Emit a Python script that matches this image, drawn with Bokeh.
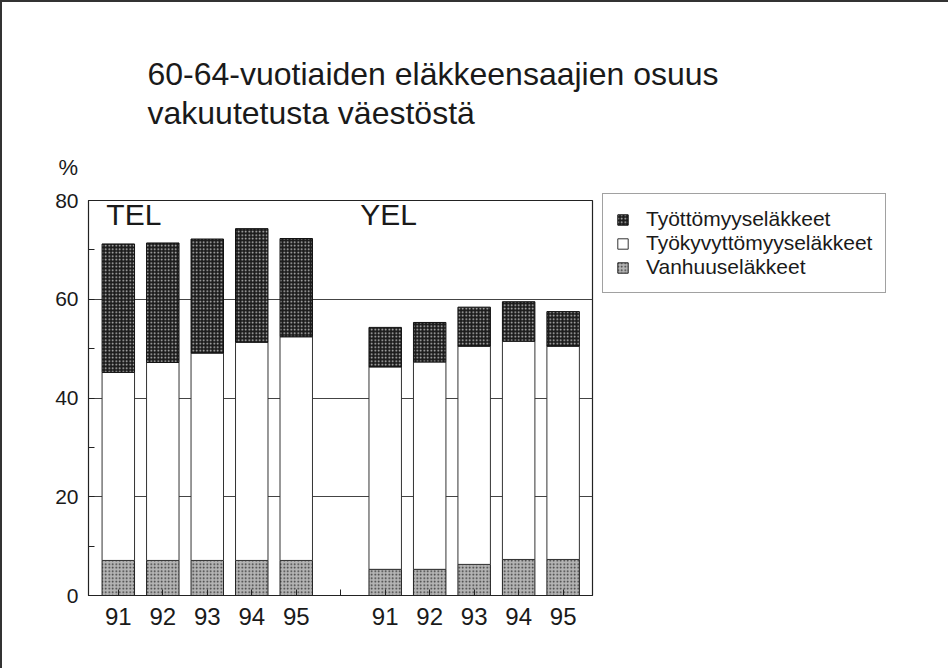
import numpy as np
from bokeh.plotting import figure
from bokeh.models import ColumnDataSource, FixedTicker, Label, Legend, LegendItem, Range1d, Title
from bokeh.embed import file_html
from bokeh.resources import INLINE

# ---- data -------------------------------------------------------------
years = ["91", "92", "93", "94", "95"]
groups = ["TEL", "YEL"]
series_names = ["Vanhuuseläkkeet", "Työkyvyttömyyseläkkeet", "Työttömyyseläkkeet"]
tel_vanhuus = [7.1, 7.1, 7.1, 7.1, 7.1]
tel_tyokyvyttomyys = [38.1, 40.1, 42.0, 44.2, 45.3]
tel_tyottomyys = [26.0, 24.2, 23.1, 23.0, 19.9]
yel_vanhuus = [5.3, 5.3, 6.3, 7.3, 7.3]
yel_tyokyvyttomyys = [41.0, 42.0, 44.2, 44.2, 43.2]
yel_tyottomyys = [8.0, 8.0, 7.9, 8.0, 7.0]
y_ticks = [0, 20, 40, 60, 80]
y_minor = [10, 30, 50, 70]
title_text = "60-64-vuotiaiden eläkkeensaajien osuus\nvakuutetusta väestöstä"
unit_text = "%"

FONT = "Liberation Sans"

# ---- layout of categories --------------------------------------------
n = len(years)
xs = [i + 1 for i in range(n)] + [i + n + 2 for i in range(n)]
gap_pos = n + 1
van = np.array(tel_vanhuus + yel_vanhuus)
tk = np.array(tel_tyokyvyttomyys + yel_tyokyvyttomyys)
tt = np.array(tel_tyottomyys + yel_tyottomyys)
src = ColumnDataSource(dict(
    x=xs,
    b0=np.zeros(len(xs)), t0=van,
    b1=van, t1=van + tk,
    b2=van + tk, t2=van + tk + tt,
))

X0, X1 = 0.33, 11.66
FW, FH = 504, 395

p = figure(output_backend="svg", toolbar_location=None,
           frame_width=FW, frame_height=FH,
           min_border_left=86, min_border_right=351,
           min_border_top=198, min_border_bottom=73,
           x_range=Range1d(X0, X1), y_range=Range1d(0, 80),
           background_fill_color="white", border_fill_color="white")

W = 0.73
r_van = p.vbar(x="x", bottom="b0", top="t0", width=W, source=src,
               fill_color="#b4b4b4", hatch_pattern="dot", hatch_color="#333333",
               hatch_scale=3.5, hatch_weight=1.4, line_color="#222", line_width=1)
r_tk = p.vbar(x="x", bottom="b1", top="t1", width=W, source=src,
              fill_color="white", line_color="#333", line_width=1)
r_tt = p.vbar(x="x", bottom="b2", top="t2", width=W, source=src,
              fill_color="#1c1c1c", hatch_pattern="dot", hatch_color="#c8c8c8",
              hatch_scale=3.5, hatch_weight=1.2, line_color="#111", line_width=1)

# ---- axes --------------------------------------------------------------
p.xaxis.ticker = FixedTicker(ticks=xs + [gap_pos])
overrides = {x: years[i % n] for i, x in enumerate(xs)}
overrides[gap_pos] = ""
p.xaxis.major_label_overrides = overrides
p.xaxis.major_tick_in = 6
p.xaxis.major_tick_out = 0
p.xaxis.major_tick_line_color = "#222"
p.xaxis.axis_line_color = "#222"
p.xaxis.major_label_text_font = FONT
p.xaxis.major_label_text_font_size = "24px"
p.xaxis.major_label_text_color = "#1a1a1a"
p.xaxis.major_label_standoff = 12

p.yaxis.ticker = FixedTicker(ticks=y_ticks, minor_ticks=y_minor)
p.yaxis.major_tick_in = 6
p.yaxis.major_tick_out = 0
p.yaxis.minor_tick_in = 6
p.yaxis.minor_tick_out = 0
p.yaxis.major_tick_line_color = "#222"
p.yaxis.minor_tick_line_color = "#222"
p.yaxis.axis_line_color = "#222"
p.yaxis.major_label_text_font = FONT
p.yaxis.major_label_text_font_size = "21px"
p.yaxis.major_label_text_color = "#1a1a1a"
p.yaxis.major_label_standoff = 10

p.xgrid.visible = False
p.ygrid.ticker = FixedTicker(ticks=[20, 40, 60])
p.ygrid.grid_line_color = "#444"
p.ygrid.grid_line_width = 1

p.outline_line_color = "#222"
p.outline_line_width = 1.2

# ---- titles (above the frame) --------------------------------------------
p.title.text = title_text
p.title.align = "left"
p.title.offset = 59
p.title.standoff = 0
p.title.text_font = FONT
p.title.text_font_size = "32px"
p.title.text_font_style = "normal"
p.title.text_color = "#1a1a1a"
p.title.text_line_height = 1.1

unit_title = Title(text=unit_text, align="left", offset=-30, standoff=42,
                   text_font=FONT, text_font_size="22px", text_font_style="normal",
                   text_color="#1a1a1a")
p.add_layout(unit_title, "above")

# group labels inside the frame
for g, xg, dx in zip(groups, [1, n + 2], [-12, -25]):
    p.add_layout(Label(x=xg, y=80, text=g, x_offset=dx, y_offset=-14,
                       text_font=FONT, text_font_size="30px", text_color="#1a1a1a",
                       text_align="left", text_baseline="alphabetic"))

# ---- legend ---------------------------------------------------------------
legend = Legend(items=[LegendItem(label=series_names[2], renderers=[r_tt]),
                       LegendItem(label=series_names[1], renderers=[r_tk]),
                       LegendItem(label=series_names[0], renderers=[r_van])],
                location=(10, 302), orientation="vertical")
legend.padding = 13
legend.spacing = 0
legend.margin = 0
legend.glyph_width = 13
legend.glyph_height = 13
legend.label_height = 20
legend.label_standoff = 17
legend.label_text_font = FONT
legend.label_text_font_size = "21px"
legend.label_text_color = "#1a1a1a"
legend.border_line_color = "#444"
legend.border_line_width = 1
legend.background_fill_color = "white"
legend.background_fill_alpha = 1
p.add_layout(legend, "right")

p.styles = {"border-top": "2px solid #333", "border-left": "2px solid #333",
            "border-right": "2px solid #333"}

open("out.html", "w").write(file_html(p, INLINE))
